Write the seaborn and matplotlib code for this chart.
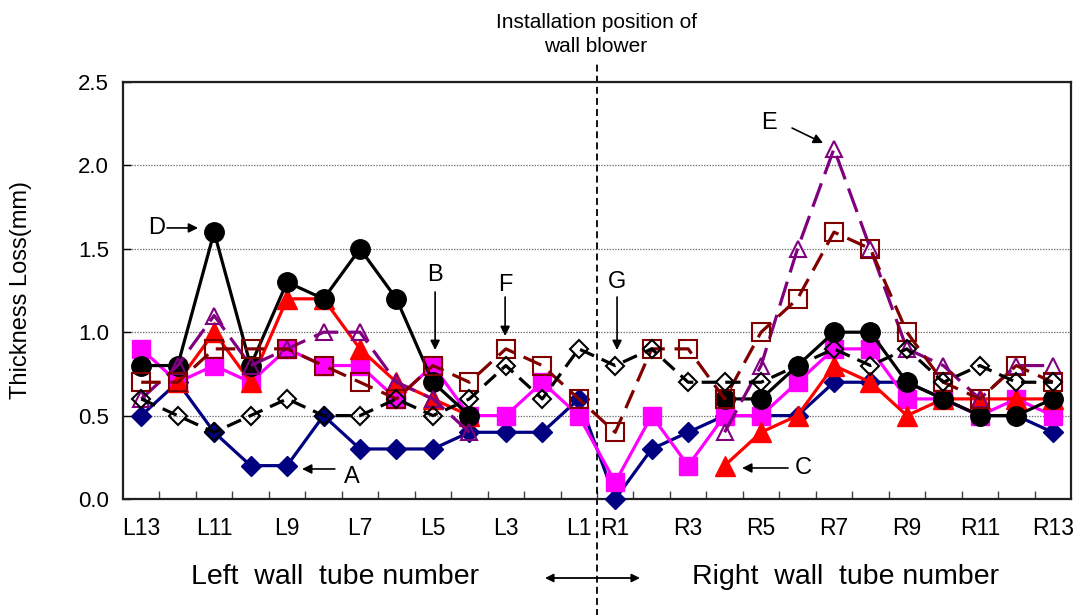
import numpy as np
import pandas as pd
import matplotlib
matplotlib.use("Agg")
import matplotlib.pyplot as plt
import seaborn as sns

# Tube positions: left wall L13..L1, then right wall R1..R13
tubes = [f"L{i}" for i in range(13, 0, -1)] + [f"R{i}" for i in range(1, 14)]
tick_labels = ["L13", "L11", "L9", "L7", "L5", "L3", "L1",
               "R1", "R3", "R5", "R7", "R9", "R11", "R13"]

nan = np.nan
loss_a = [0.5, 0.7, 0.4, 0.2, 0.2, 0.5, 0.3, 0.3, 0.3, 0.4, 0.4, 0.4, 0.6,
          0.0, 0.3, 0.4, 0.5, 0.5, 0.5, 0.7, 0.7, 0.7, 0.6, 0.5, 0.5, 0.4]
loss_b = [0.9, 0.7, 0.8, 0.7, 0.9, 0.8, 0.8, 0.6, 0.8, 0.5, 0.5, 0.7, 0.5,
          0.1, 0.5, 0.2, 0.5, 0.5, 0.7, 0.9, 0.9, 0.6, 0.6, 0.5, 0.6, 0.5]
loss_c = [nan, 0.7, 1.0, 0.7, 1.2, 1.2, 0.9, 0.7, 0.6, 0.5, nan, nan, nan,
          nan, nan, nan, 0.2, 0.4, 0.5, 0.8, 0.7, 0.5, 0.6, 0.6, 0.6, 0.6]
loss_d = [0.8, 0.8, 1.6, 0.8, 1.3, 1.2, 1.5, 1.2, 0.7, 0.5, nan, nan, nan,
          nan, nan, nan, 0.6, 0.6, 0.8, 1.0, 1.0, 0.7, 0.6, 0.5, 0.5, 0.6]
loss_e = [0.6, 0.8, 1.1, 0.8, 0.9, 1.0, 1.0, 0.7, 0.6, 0.4, nan, nan, nan,
          nan, nan, nan, 0.4, 0.8, 1.5, 2.1, 1.5, 0.9, 0.8, 0.6, 0.8, 0.8]
loss_f = [0.7, 0.7, 0.9, 0.9, 0.9, 0.8, 0.7, 0.6, 0.8, 0.7, 0.9, 0.8, 0.6,
          0.4, 0.9, 0.9, 0.6, 1.0, 1.2, 1.6, 1.5, 1.0, 0.7, 0.6, 0.8, 0.7]
loss_g = [0.6, 0.5, 0.4, 0.5, 0.6, 0.5, 0.5, 0.6, 0.5, 0.6, 0.8, 0.6, 0.9,
          0.8, 0.9, 0.7, 0.7, 0.7, 0.8, 0.9, 0.8, 0.9, 0.7, 0.8, 0.7, 0.7]

series = {"A": loss_a, "B": loss_b, "C": loss_c, "D": loss_d,
          "E": loss_e, "F": loss_f, "G": loss_g}

styles = {
    "A": dict(color="#000080", marker="D", markersize=10, filled=True, ls="-"),
    "B": dict(color="#FF00FF", marker="s", markersize=13, filled=True, ls="-"),
    "C": dict(color="#FF0000", marker="^", markersize=14, filled=True, ls="-"),
    "D": dict(color="#000000", marker="o", markersize=14, filled=True, ls="-"),
    "E": dict(color="#800080", marker="^", markersize=12, filled=False, ls=(0, (18, 7))),
    "F": dict(color="#800000", marker="s", markersize=13, filled=False, ls=(0, (14, 7))),
    "G": dict(color="#000000", marker="D", markersize=9, filled=False, ls=(0, (11, 6))),
}

sns.set_style("ticks")
plt.rcParams["font.family"] = ["Liberation Sans", "DejaVu Sans"]
plt.rcParams["lines.scale_dashes"] = False
for key in ("text.color", "axes.labelcolor", "xtick.color", "ytick.color"):
    plt.rcParams[key] = "black"

fig = plt.figure(figsize=(10.78, 6.15), dpi=100)
ax = fig.add_axes([0.1141, 0.1886, 0.8794, 0.6781])

for z, (name, values) in enumerate(series.items()):
    st = styles[name]
    df = pd.DataFrame({"pos": np.arange(len(tubes)), "loss": values})
    # break the line where no measurement exists
    df["run"] = df["loss"].isna().cumsum()
    df = df.dropna()
    sns.lineplot(
        data=df, x="pos", y="loss", units="run", estimator=None, ax=ax,
        color=st["color"], linewidth=2.3, linestyle=st["ls"],
        marker=st["marker"], markersize=st["markersize"],
        markerfacecolor=st["color"] if st["filled"] else "none",
        markeredgecolor=st["color"], markeredgewidth=1.5 if not st["filled"] else 1.0,
        clip_on=False, zorder=3 + z,
    )

ax.set_xlim(-0.5, len(tubes) - 0.5)
ax.set_ylim(0, 2.5)
ax.set_yticks(np.arange(0, 2.51, 0.5))
ax.yaxis.set_major_formatter("{x:.1f}")

# tick marks between tubes, labels on every other tube
ax.set_xticks(np.arange(0.5, len(tubes) - 1, 1))
ax.set_xticklabels([])
label_pos = [tubes.index(t) for t in tick_labels]
ax.set_xticks(label_pos, minor=True)
ax.set_xticklabels(tick_labels, minor=True)
ax.tick_params(axis="x", which="major", direction="in", length=6, width=1.0, color="#404040")
ax.tick_params(axis="x", which="minor", length=0, pad=13, labelsize=16.5)
ax.tick_params(axis="y", direction="in", length=6, width=1.0, pad=10, labelsize=16)

ax.set_xlabel("")
ax.set_ylabel("Thickness Loss(mm)", fontsize=17)
ax.yaxis.set_label_coords(-0.096, 0.5)

ax.yaxis.grid(True, linestyle=(0, (1, 1)), color="#707070", linewidth=0.9)
ax.set_axisbelow(True)
for sp in ax.spines.values():
    sp.set_visible(True)
    sp.set_linewidth(1.6)
    sp.set_color("#202020")

# boundary between left and right walls
ax.axvline(12.5, ymin=-0.28, ymax=1.048, color="black", linewidth=1.3,
           linestyle=(0, (5, 3)), clip_on=False, zorder=2)

fig.text(596 / 1078, 1 - 22 / 615, "Installation position of", ha="center", va="center", fontsize=15)
fig.text(596 / 1078, 1 - 47 / 615, "wall blower", ha="center", va="center", fontsize=15)
fig.text(335 / 1078, 1 - 577 / 615, "Left  wall  tube number", ha="center", va="center", fontsize=20.5)
fig.text(845 / 1078, 1 - 577 / 615, "Right  wall  tube number", ha="center", va="center", fontsize=20.5)
ax.annotate("", xy=(545, 37), xytext=(640, 37), xycoords="figure pixels",
            textcoords="figure pixels",
            arrowprops=dict(arrowstyle="<|-|>", color="black", lw=1.3,
                            mutation_scale=12, shrinkA=0, shrinkB=0))

# series call-outs: (label, text position, arrow tail, arrow head)
callouts = [
    ("D", (0.43, 1.625), (0.71, 1.625), (1.56, 1.625)),
    ("A", (5.78, 0.132), (5.31, 0.18), (4.41, 0.18)),
    ("B", (8.06, 1.343), (8.06, 1.241), (8.06, 0.893)),
    ("F", (9.98, 1.283), (9.98, 1.211), (9.98, 0.977)),
    ("G", (13.05, 1.301), (13.05, 1.211), (13.05, 0.893)),
    ("C", (18.15, 0.186), (17.74, 0.186), (16.48, 0.186)),
    ("E", (17.22, 2.254), (17.85, 2.224), (18.70, 2.134)),
]
for lab, tpos, tail, head in callouts:
    ax.text(*tpos, lab, ha="center", va="center", fontsize=17, zorder=20)
    ax.annotate("", xy=head, xytext=tail,
                arrowprops=dict(arrowstyle="-|>", color="black", lw=1.2,
                                mutation_scale=14, shrinkA=0, shrinkB=0),
                zorder=20)

fig.savefig("out.png", dpi=100)
